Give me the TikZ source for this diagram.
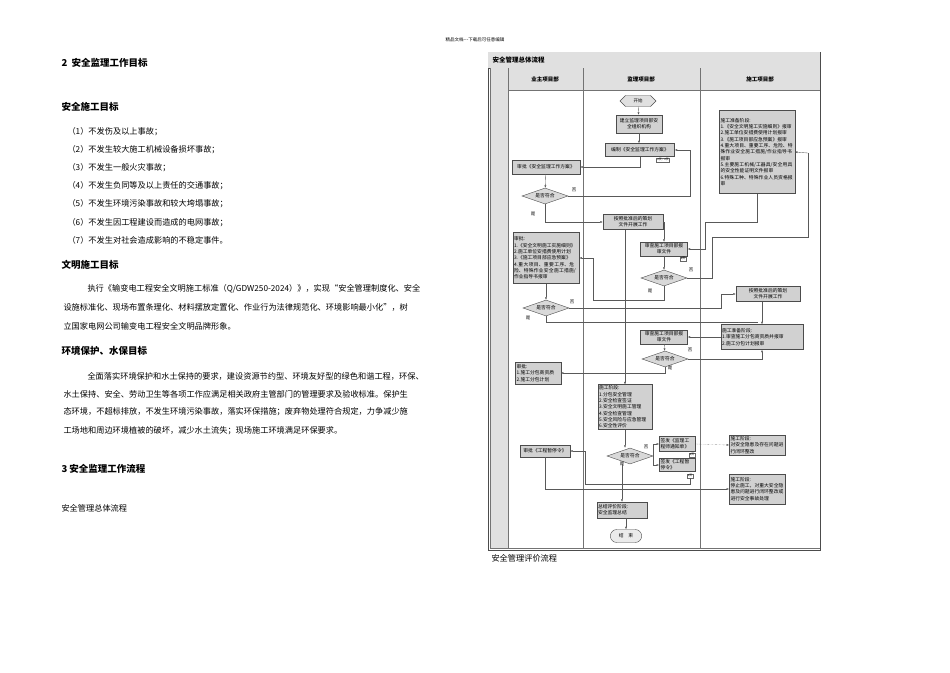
\documentclass[tikz,border=0pt]{standalone}
\usepackage{fontspec}
\newfontfamily\cjk{Noto Sans CJK SC}
\XeTeXlinebreaklocale "zh"
\XeTeXlinebreakskip=0pt plus 1pt
\usetikzlibrary{shapes.geometric,shapes.symbols,shapes.misc,arrows.meta}
\begin{document}
\begin{tikzpicture}[x=1pt,y=-1pt,
  every node/.style={font=\cjk},
  bx/.style={draw=black!70,fill=black!18,line width=0.4pt,font=\cjk\fontsize{4.8}{6.3}\selectfont,inner sep=1.2pt,align=center},
  bxl/.style={bx,align=left},
  dm/.style={diamond,aspect=3,draw=black!70,fill=black!15,inner sep=0.5pt,minimum width=46,minimum height=16,font=\cjk\fontsize{4.8}{6}\selectfont},
  dc/.style={draw=black!60,fill=white,font=\cjk\fontsize{2.8}{3}\selectfont,inner sep=0.8pt},
  ln/.style={draw=black!65,line width=0.35pt},
  ar/.style={ln,-{Latex[length=2.5pt,width=2pt]}},
  lb/.style={font=\cjk\fontsize{4.5}{5}\selectfont},
  h1/.style={font=\cjk\bfseries\fontsize{9.5}{11}\selectfont,anchor=west},
  tx/.style={font=\cjk\fontsize{8.2}{10}\selectfont,anchor=west}]
\useasboundingbox (0,0) rectangle (950,672);
\fill[white] (0,0) rectangle (950,672);
\node[font=\cjk\fontsize{4.5}{5}\selectfont] (hdr) at (475,40) {精品文档---下载后可任意编辑};
% left text
\node[h1] (t1) at (58,63) {2\ \ 安全监理工作目标};
\node[h1] (t2) at (58,107) {安全施工目标};
\foreach \i/\s in {1/不发伤及以上事故；,2/不发生较大施工机械设备损坏事故；,3/不发生一般火灾事故；,4/不发生负同等及以上责任的交通事故；,5/不发生环境污染事故和较大垮塌事故；,6/不发生因工程建设而造成的电网事故；,7/不发生对社会造成影响的不稳定事件。}
  \node[tx] (li\i) at (64,113+18.2*\i) {（\i）\s};
\node[h1] (t3) at (58,265) {文明施工目标};
\node[tx] (p1a) at (84,289) {执行《输变电工程安全文明施工标准（Q/GDW250-2024）》，实现“安全管理制度化、安全};
\node[tx] (p1b) at (60,307) {设施标准化、现场布置条理化、材料摆放定置化、作业行为法律规范化、环境影响最小化”，树};
\node[tx] (p1c) at (60,326) {立国家电网公司输变电工程安全文明品牌形象。};
\node[h1] (t4) at (58,351) {环境保护、水保目标};
\node[tx] (p2a) at (84,376) {全面落实环境保护和水土保持的要求，建设资源节约型、环境友好型的绿色和谐工程，环保、};
\node[tx] (p2b) at (60,394) {水土保持、安全、劳动卫生等各项工作应满足相关政府主管部门的管理要求及验收标准。保护生};
\node[tx] (p2c) at (60,412) {态环境，不超标排放，不发生环境污染事故，落实环保措施；废弃物处理符合规定，力争减少施};
\node[tx] (p2d) at (60,431) {工场地和周边环境植被的破坏，减少水土流失；现场施工环境满足环保要求。};
\node[h1] (t5) at (58,469) {3 安全监理工作流程};
\node[tx] (t6) at (58,508) {安全管理总体流程};
\node[tx] (t7) at (488,558) {安全管理评价流程};
% flowchart frame
\draw[black!70,line width=0.5pt] (488,52) rectangle (820,550);
\fill[black!12] (488,52) rectangle (820,68);
\draw[black!70] (488,68) -- (820,68);
\node[font=\cjk\bfseries\fontsize{6.5}{7}\selectfont,anchor=west] (ft) at (489,60) {安全管理总体流程};
\fill[black!12] (490,68) rectangle (508,548);
\fill[black!12] (508,68) rectangle (820,90);
\draw[black!55] (490,548) -- (820,548) (508,68) -- (508,548) (583,68) -- (583,548) (700,68) -- (700,548) (508,90) -- (820,90) (490,68)--(490,548);
\node[font=\cjk\bfseries\fontsize{5.5}{6}\selectfont] (c1) at (545,79) {业主项目部};
\node[font=\cjk\bfseries\fontsize{5.5}{6}\selectfont] (c2) at (641,79) {监理项目部};
\node[font=\cjk\bfseries\fontsize{5.5}{6}\selectfont] (c3) at (760,79) {施工项目部};
% nodes
\node[signal,signal to=east and west,draw=black!70,fill=black!12,minimum width=36,minimum height=11,inner sep=0.5pt,font=\cjk\fontsize{4.5}{5}\selectfont] (st) at (638,101) {开始};
\node[bx,minimum width=46,minimum height=18] (org) at (639,124) {建立监理项目部安\\全组织机构};
\node[bx,minimum width=69,minimum height=13] (plan) at (640,150) {编制《安全监理工作方案》};
\node[dc] (doc1) at (663,160) {2页，2页};
\node[bx,minimum width=68,minimum height=14] (ap1) at (546,167) {审批《安全监理工作方案》};
\node[dm] (d1) at (545,196) {是否符合};
\node[bx,minimum width=60,minimum height=15] (w1) at (633,222) {按照批准后的策划\\文件开展工作};
\node[bxl,text width=73,minimum height=83] (pr1) at (757,152) {施工准备阶段:\\1.《安全文明施工实施细则》报审\\2.施工单位安措费使用计划报审\\3.《施工项目部应急预案》报审\\4.重大项目、重要工序、危险、特殊作业安全施工措施/作业指导书报审\\5.主要施工机械/工器具/安全用具的安全性能证明文件报审\\6.特殊工种、特殊作业人员资格报审};
\node[bxl,text width=64,minimum height=51] (ap2) at (546,258) {审批:\\1.《安全文明施工实施细则》\\2.施工单位安措费使用计划\\3.《施工项目部应急预案》\\4.重大项目、重要工序、危险、特殊作业安全施工措施/作业指导书报审};
\node[bx,minimum width=47,minimum height=14] (rv1) at (664,249) {审查施工项目部报\\审文件};
\node[dc] (doc2) at (683,259) {2页};
\node[dm] (d2) at (664,278) {是否符合};
\node[dm] (d3) at (546,308) {是否符合};
\node[bx,minimum width=64,minimum height=15] (w2) at (768,294) {按照批准后的策划\\文件开展工作};
\node[bxl,text width=80,minimum height=25] (pr2) at (762,337) {施工准备阶段:\\1.审查施工分包商资质并报审\\2.施工分包计划报审};
\node[bx,minimum width=47,minimum height=14] (rv2) at (664,337) {审查施工项目部报\\审文件};
\node[dm] (d4) at (665,359) {是否符合};
\node[bxl,text width=43,minimum height=22] (ap3) at (538,373) {审批:\\1.施工分包商资质\\2.施工分包计划};
\node[bxl,text width=52,minimum height=42] (cs) at (625,407) {施工阶段:\\1.分包安全管理\\2.安全检查签证\\3.安全文明施工管理\\4.安全检查管理\\5.安全风险与应急管理\\6.安全性评价};
\node[dm] (d5) at (630,456) {是否符合};
\node[bxl,text width=33,minimum height=15] (nt) at (677,444) {签发《监理工\\程师通知单》};
\node[dc] (doc3) at (692,455) {2页};
\node[bxl,text width=33,minimum height=13] (sp) at (677,465) {签发《工程暂\\停令》};
\node[dc] (doc4) at (690,476) {2页};
\node[bx,minimum width=50,minimum height=12] (ap4) at (545,451) {审批《工程暂停令》};
\node[bxl,text width=53,minimum height=16] (s1) at (757,445) {施工阶段:\\对安全隐患及存在问题进行闭环整改};
\node[bxl,text width=53,minimum height=30] (s2) at (757,489) {施工阶段:\\停止施工，对重大安全隐患及问题进行闭环整改或进行安全事故处理};
\node[bxl,text width=48,minimum height=16] (sm) at (622,510) {总结评价阶段:\\安全监理总结};
\node[rounded rectangle,draw=black!70,fill=black!8,minimum width=38,minimum height=13,font=\cjk\fontsize{4.8}{5}\selectfont] (en) at (626,536) {结\quad 束};
% connectors
\draw[ar] (st) -- (org);
\draw[ar] (org) -- (org|-plan.north);
\draw[ar] (640,156.5) |- (ap1.east);
\draw[ar] (ap1) -- (d1);
\draw[ar] (d1.east) -| (690,150) -- (plan.east);
\node[lb] (n1) at (574,190) {否};
\draw[ar] (d1.south) |- (w1.west);
\node[lb] (y1) at (533,214) {是};
\draw[ar] (w1.east) -| (rv1.north);
\draw[ln] (pr1.south) |- (705,222);
\draw[ar] (705,222) |- (rv1.east);
\draw[ar] (rv1) -- (d2);
\draw[ln] (d2.east) -| (712,237) -| (808,153);
\draw[ar] (808,153) -- (pr1.east);
\node[lb] (n2) at (691,270) {否};
\draw[ar] (d2.south) |- (593,300) |- (ap2.east);
\node[lb] (y2) at (650,291) {是};
\draw[ar] (ap2) -- (d3);
\draw[ar] (d3.east) -| (721,294) -- (w2.west);
\node[lb] (n3) at (572,302) {否};
\draw[ln] (d3.south) |- (758,322);
\node[lb] (y3) at (528,318) {是};
\draw[ar] (w2.south-|pr2.north) -- (pr2.north);
\draw[ar] (pr2.west) -- (rv2.east);
\draw[ar] (rv2) -- (d4);
\draw[ar] (d4.east) -| (pr2.south);
\node[lb] (n4) at (690,350) {否};
\draw[ar] (d4.south) |- (ap3.east);
\node[lb] (y4) at (670,368) {是};
\draw[ar] (w1.south-|cs.north) -- (cs.north);
\draw[ar] (cs) -- (cs|-d5.north);
\draw[ln] (d5.east) -- (653,456);
\draw[ar] (653,456) |- (nt.west);
\draw[ar] (653,456) |- (sp.west);
\node[lb] (n5) at (646,447) {否};
\node[lb] (y5) at (622,464) {是};
\draw[ar,densely dotted] (nt.east) -- (s1.west);
\draw[ar] (doc4.south) |- (585,484) |- (ap4.east);
\draw[ar] (ap4.south) |- (s2.west);
\draw[ar] (d5.south-|sm.north) -- (sm.north);
\draw[ar] (sm.south-|en.north) -- (en.north);
\end{tikzpicture}
\end{document}
